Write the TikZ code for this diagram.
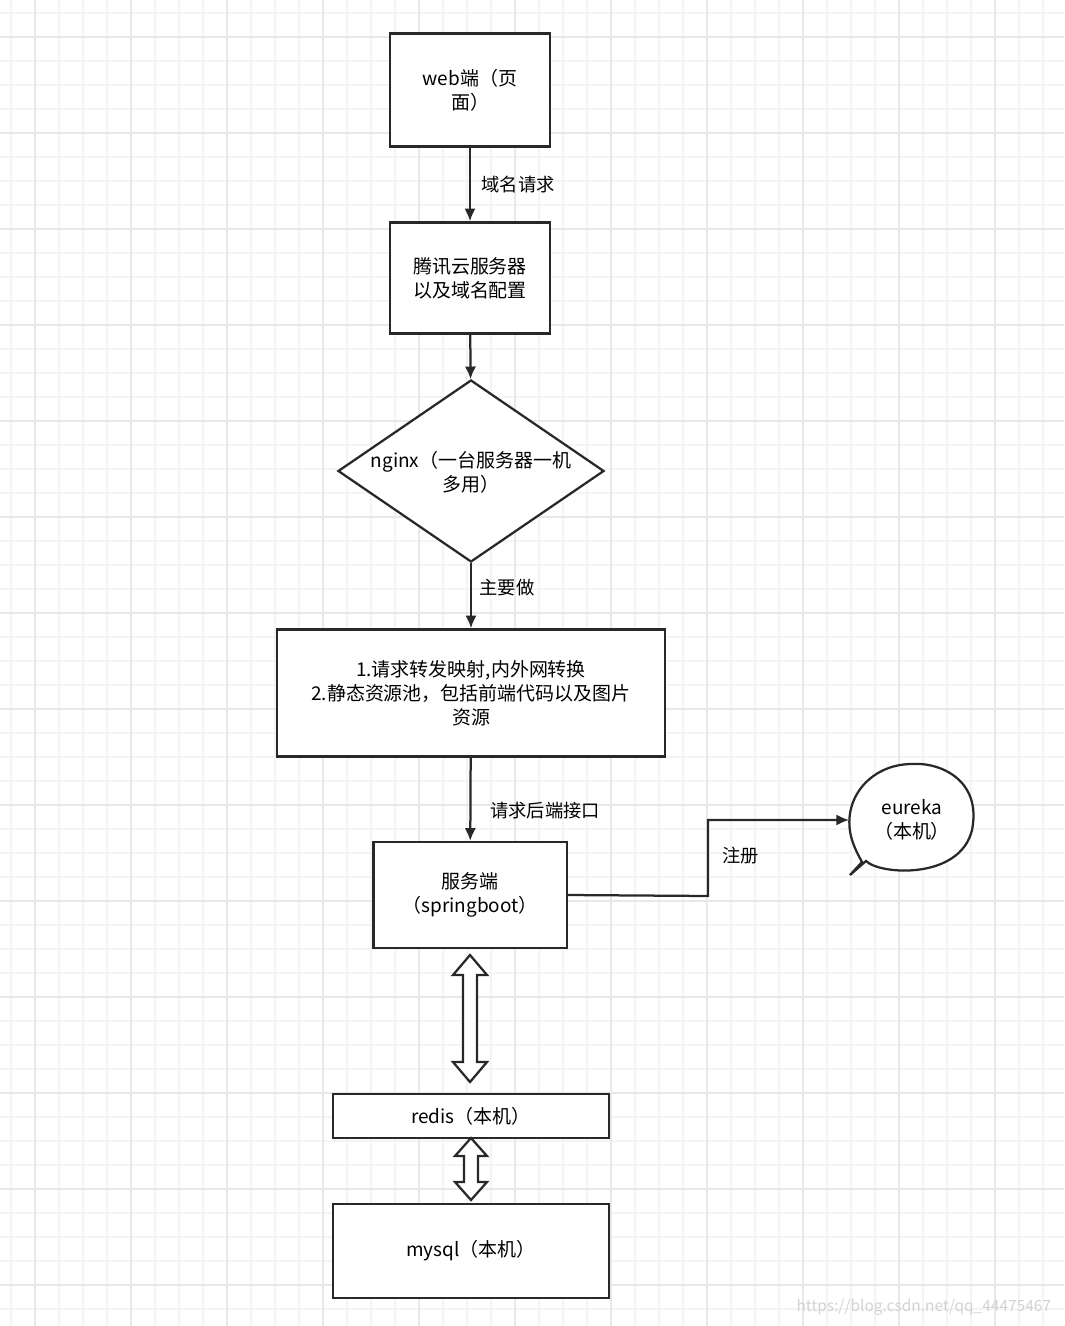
\documentclass[tikz,border=0pt]{standalone}
\usepackage{fontspec}
\setmainfont{Noto Sans CJK SC}
\usetikzlibrary{shapes.geometric, arrows, arrows.meta, positioning}
\definecolor{gridminor}{RGB}{244,244,244}
\definecolor{gridmajor}{RGB}{232,232,232}
\definecolor{linecolor}{RGB}{40,40,40}
\tikzstyle{box} = [rectangle, draw=linecolor, line width=1.6pt, fill=white, align=center, inner sep=0pt]
\tikzstyle{decision} = [diamond, draw=linecolor, line width=1.6pt, fill=white, align=center, inner sep=0pt, aspect=1.45]
\tikzstyle{arrow} = [line width=1.6pt, draw=linecolor, -{Latex[length=9pt, width=8pt]}]
\tikzstyle{lbl} = [font=\fontsize{13}{16}\selectfont, anchor=west]
\tikzstyle{hollow} = [draw=linecolor, line width=1.6pt, fill=white, line join=miter]
\begin{document}
\begin{tikzpicture}[x=0.025cm, y=-0.025cm, font=\fontsize{13.5}{17}\selectfont]
\useasboundingbox (0,0) rectangle (1064,1326);

% Grid
\foreach \k in {0,...,44} {
  \draw[gridminor, line width=1.2pt] (11+24*\k,0) -- (11+24*\k,1326);
}
\foreach \k in {0,...,55} {
  \draw[gridminor, line width=1.2pt] (0,13+24*\k) -- (1064,13+24*\k);
}
\foreach \k in {0,...,10} {
  \draw[gridmajor, line width=1.2pt] (35+96*\k,0) -- (35+96*\k,1326);
}
\foreach \k in {0,...,13} {
  \draw[gridmajor, line width=1.2pt] (0,37+96*\k) -- (1064,37+96*\k);
}

% Nodes
\node (web) [box, minimum width=4cm, minimum height=2.83cm] at (470,90) {web端（页\\面）};
\node (cloud) [box, minimum width=4cm, minimum height=2.78cm] at (470,278) {腾讯云服务器\\以及域名配置};
\node (nginx) [decision, minimum width=6.65cm, minimum height=4.55cm] at (471,471) {};
\node[align=center] at (471,472) {nginx（一台服务器一机\\多用）};
\node (proxy) [box, minimum width=9.68cm, minimum height=3.18cm] at (471,693) {1.请求转发映射,内外网转换\\2.静态资源池，包括前端代码以及图片\\资源};
\node (server) [box, minimum width=4.83cm, minimum height=2.65cm] at (470,895) {服务端\\（springboot）};
\node (redis) [box, minimum width=6.88cm, minimum height=1.1cm] at (471,1116) {redis（本机）};
\node (mysql) [box, minimum width=6.88cm, minimum height=2.35cm] at (471,1251) {mysql（本机）};

% eureka callout
\draw[hollow] (866,861) .. controls (880,875) and (960,880) .. (972,830)
  .. controls (982,780) and (940,762) .. (912,764)
  .. controls (870,764) and (840,800) .. (852,840)
  .. controls (856,852) and (860,858) .. (862,862)
  -- (850,875) -- cycle;
\node (eureka) [align=center] at (912,820) {eureka\\（本机）};
\coordinate (eurekain) at (849,820);

% Arrows
\draw [arrow] (web) -- (cloud) node[lbl, midway, right=4pt] {域名请求};
\draw [arrow] (cloud) -- (nginx);
\draw [arrow] (nginx) -- (proxy) node[lbl, midway, right=2pt, yshift=6pt] {主要做};
\draw [arrow] (proxy) -- (server) node[lbl, midway, right=10pt, yshift=-8pt] {请求后端接口};
\draw [arrow] (server.east) -- (708,896) -- node[lbl, right=6pt, yshift=2pt] {注册} (708,820) -- (eurekain);

% Double arrows
\coordinate (dtop) at (470,955);
\coordinate (dbot) at (470,1082);
\draw[hollow] (dtop) -- ++(17,20) -- ++(-10,0) -- (477,1062) -- ++(10,0) -- (dbot)
  -- ++(-17,-20) -- ++(10,0) -- (463,975) -- ++(-10,0) -- cycle;
\coordinate (etop) at (471,1138);
\coordinate (ebot) at (471,1200);
\draw[hollow] (etop) -- ++(16,18) -- ++(-9,0) -- (478,1182) -- ++(9,0) -- (ebot)
  -- ++(-16,-18) -- ++(9,0) -- (464,1156) -- ++(-9,0) -- cycle;

% Watermark
\node[anchor=east, text=gray!35, font=\fontsize{11}{13}\selectfont] at (1056,1307) {https://blog.csdn.net/qq\_44475467};
\end{tikzpicture}
\end{document}
